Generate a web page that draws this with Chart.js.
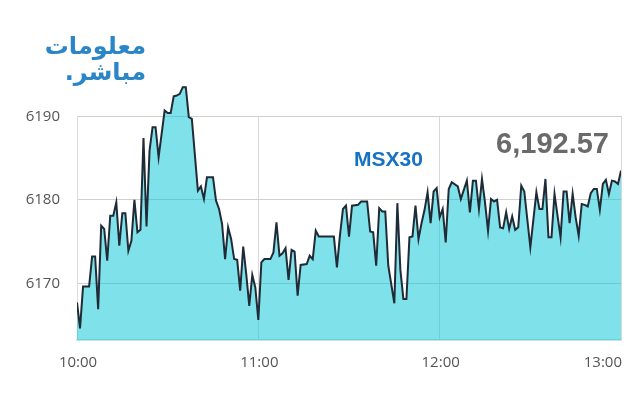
<!DOCTYPE html>
<html>
<head>
<meta charset="utf-8">
<script src="https://cdn.jsdelivr.net/npm/chart.js@4.4.1/dist/chart.umd.min.js"></script>
<style>
  body { margin: 0; background: #fff; }
  #wrap { position: relative; width: 640px; height: 400px; overflow: hidden; }
  #chart { position: absolute; left: 0; top: 0; }
  .logo { position: absolute; right: 494px; color: #2a86c6; font-family: "DejaVu Sans", sans-serif; font-weight: bold; direction: rtl; white-space: nowrap; }
  #msx { position: absolute; left: 354px; top: 147px; color: #1672c2; font: bold 21px "Liberation Sans", Arial, sans-serif; }
  #last { position: absolute; right: 31px; top: 127px; color: #6a6a6a; font: bold 29px "Liberation Sans", Arial, sans-serif; }
</style>
</head>
<body>
<div id="wrap">
  <canvas id="chart" width="640" height="400"></canvas>
  <div class="logo" style="top:32px;font-size:24px;">معلومات</div>
  <div class="logo" style="top:58px;font-size:24px;">مباشر.</div>
  <div id="msx">MSX30</div>
  <div id="last">6,192.57</div>
</div>
<script>
  /************************************************
   *  DATA (minutes after 10:00, index level)
   ************************************************/
  const times = [0,1,2,4,5,6,7,8,9,10,11,12,13,14,15,16,17,18,19,20,21,22,23,24,25,26,27,29,30,31,32,33,34,35,36,37,38,40,41,42,43,45,46,47,48,49,50,51,52,53,54,55,56,57,58,59,60,61,62,64,65,66,67,68,69,70,71,72,73,74,76,77,78,79,80,85,86,87,88,89,90,91,93,94,96,97,98,99,100,101,102,103,105,106,107,108,109,110,111,112,113,114,115,116,117,118,119,120,121,122,123,124,126,127,129,130,131,132,133,134,135,136,137,138,139,140,141,142,143,144,145,146,147,148,150,152,153,154,155,156,157,158,160,161,162,163,164,165,166,167,168,169,170,171,172,173,174,175,176,177,178,179,180];
  const values = [6167.7,6164.6,6169.6,6169.6,6173.2,6173.2,6166.9,6176.9,6176.5,6172.7,6178.1,6178.1,6179.7,6174.5,6178.4,6178.4,6173.9,6175.1,6180.0,6176.1,6176.4,6187.4,6176.8,6185.9,6188.7,6188.7,6185.1,6190.7,6190.4,6190.4,6192.4,6192.5,6192.7,6193.5,6193.5,6189.9,6189.7,6181.1,6181.6,6180.1,6182.7,6182.7,6179.9,6178.9,6177.1,6172.9,6176.7,6175.3,6172.9,6172.8,6169.1,6174.4,6171.1,6167.3,6171.0,6169.5,6165.6,6172.5,6172.9,6172.9,6173.7,6177.3,6173.3,6173.6,6174.2,6170.4,6174.0,6173.8,6168.5,6172.2,6172.3,6173.3,6172.9,6176.3,6175.6,6175.6,6171.9,6175.7,6178.9,6179.3,6175.6,6179.3,6179.4,6179.8,6179.8,6176.2,6176.1,6172.1,6179.0,6178.6,6178.6,6172.1,6167.6,6179.6,6171.6,6168.1,6168.1,6175.5,6175.6,6179.3,6175.3,6177.2,6178.8,6180.9,6177.2,6181.0,6181.4,6177.9,6178.9,6174.9,6181.3,6182.1,6181.6,6180.1,6182.3,6178.5,6182.3,6182.3,6178.9,6182.5,6179.7,6176.3,6180.1,6179.8,6180.0,6176.7,6176.6,6178.5,6176.5,6178.0,6176.4,6176.7,6181.7,6181.0,6174.3,6180.9,6178.9,6178.9,6182.5,6175.5,6175.5,6180.7,6175.5,6181.0,6181.0,6177.2,6180.7,6177.9,6175.7,6179.5,6179.4,6179.2,6180.8,6181.3,6181.3,6178.8,6181.9,6182.4,6180.7,6182.3,6182.2,6181.9,6183.5];

  const xTicks = [0, 60, 120, 180];
  const xTickLabels = ["10:00", "11:00", "12:00", "13:00"];
  const yTicks = [6170, 6180, 6190];

  const tickFont = '15px "Open Sans", sans-serif';
  const tickColor = '#555';

  // white out anything above the top gridline, so the line can poke out
  const topMask = {
    id: 'topMask',
    beforeDatasetsDraw(chart) {
      const { ctx, chartArea, scales } = chart;
      const yTop = scales.y.getPixelForValue(yTicks[yTicks.length - 1]);
      ctx.save();
      ctx.fillStyle = '#fff';
      ctx.fillRect(chartArea.left - 2, chartArea.top - 2, chartArea.right - chartArea.left + 4, yTop - chartArea.top + 1.5);
      ctx.restore();
    }
  };

  // x labels drawn by hand so the last one can sit right-aligned
  const xLabels = {
    id: 'xLabels',
    afterDraw(chart) {
      const { ctx, scales, chartArea } = chart;
      ctx.save();
      ctx.font = tickFont;
      ctx.fillStyle = tickColor;
      ctx.textBaseline = 'middle';
      xTicks.forEach((t, i) => {
        const px = scales.x.getPixelForValue(t);
        const last = i === xTicks.length - 1;
        ctx.textAlign = last ? 'right' : 'center';
        ctx.fillText(xTickLabels[i], px + 1, chartArea.bottom + 23);
      });
      ctx.restore();
    }
  };

  new Chart(document.getElementById('chart'), {
    type: 'line',
    data: {
      datasets: [{
        data: times.map((t, i) => ({ x: t, y: values[i] })),
        borderColor: '#1f2b36',
        borderWidth: 2,
        backgroundColor: 'rgba(0,196,212,0.5)',
        fill: 'start',
        pointRadius: 0,
        tension: 0
      }]
    },
    options: {
      responsive: false,
      animation: false,
      layout: { padding: { left: 0, right: 19, top: 83, bottom: 60 } },
      plugins: { legend: { display: false }, tooltip: { enabled: false } },
      scales: {
        x: {
          type: 'linear',
          min: 0,
          max: 180,
          afterBuildTicks: (s) => { s.ticks = xTicks.map(v => ({ value: v })); },
          afterFit: (s) => { s.height = 0; },
          ticks: { display: false },
          grid: { color: '#d8d8d8', drawTicks: false },
          border: { color: '#c3e2ef', width: 2 }
        },
        y: {
          min: 6163.2,
          max: 6194,
          afterBuildTicks: (s) => { s.ticks = yTicks.map(v => ({ value: v })); },
          afterFit: (s) => { s.width = 77; },
          ticks: {
            font: { family: '"Open Sans", sans-serif', size: 15 },
            color: tickColor,
            padding: 17,
            callback: (v) => String(v)
          },
          grid: { color: '#d0d0d0', drawTicks: false },
          border: { color: '#dcdcdc' }
        }
      }
    },
    plugins: [topMask, xLabels]
  });
</script>
</body>
</html>
